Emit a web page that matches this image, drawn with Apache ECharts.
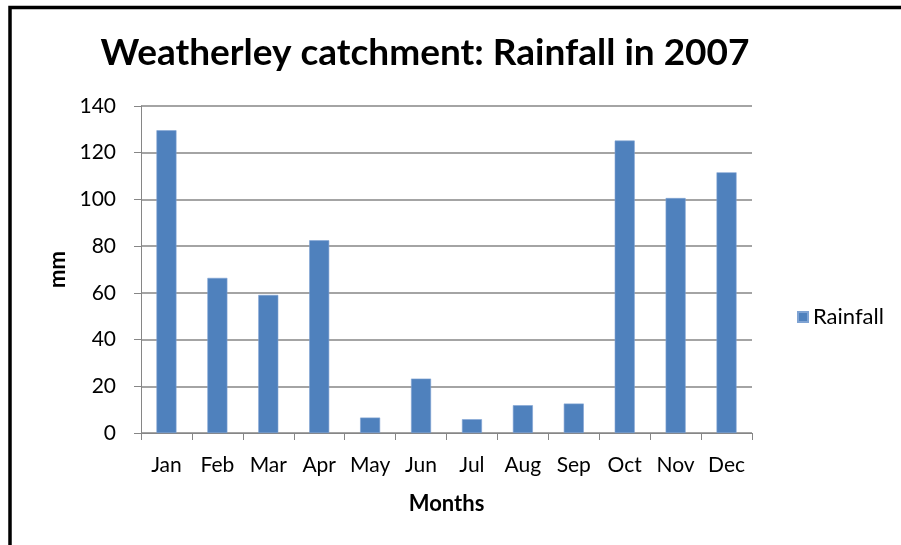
<!DOCTYPE html>
<html>
<head>
<meta charset="utf-8">
<script src="https://cdn.jsdelivr.net/npm/echarts@6/dist/echarts.min.js"></script>
<style>
  html, body { margin: 0; padding: 0; background: #fff; }
  #chart { width: 901px; height: 545px; }
</style>
</head>
<body>
<div id="chart"></div>
<script>
// Monthly rainfall for the Weatherley catchment, 2007 (mm)
const months = ['Jan', 'Feb', 'Mar', 'Apr', 'May', 'Jun', 'Jul', 'Aug', 'Sep', 'Oct', 'Nov', 'Dec'];
const rainfall = [129.6, 66.4, 59.1, 82.5, 6.6, 23.3, 5.9, 11.9, 12.6, 125.2, 100.6, 111.6];
const yTicks = { min: 0, max: 140, step: 20 };

const FONT = 'Lato, "Noto Sans", sans-serif';
const GRID_GRAY = '#868686';

const chart = echarts.init(document.getElementById('chart'), null, { renderer: 'canvas' });

chart.setOption({
  backgroundColor: '#ffffff',
  animation: false,
  title: {
    text: 'Weatherley catchment: Rainfall in 2007',
    left: 420,
    top: 30,
    textAlign: 'center',
    textStyle: { fontFamily: FONT, fontWeight: 'bold', fontSize: 37, color: '#000' }
  },
  legend: {
    data: ['Rainfall'],
    orient: 'vertical',
    left: 792,
    top: 301,
    itemWidth: 10,
    itemHeight: 10,
    itemGap: 8,
    icon: 'rect',
    textStyle: { fontFamily: FONT, fontSize: 22, color: '#000' }
  },
  grid: { left: 141, right: 149, top: 106, bottom: 112 },
  xAxis: {
    type: 'category',
    data: months,
    name: 'Months',
    nameLocation: 'middle',
    nameGap: 60,
    nameTextStyle: { fontFamily: FONT, fontWeight: 'bold', fontSize: 22, color: '#000' },
    axisLine: { lineStyle: { color: GRID_GRAY, width: 1 } },
    axisTick: { show: true, length: 7, lineStyle: { color: GRID_GRAY } },
    axisLabel: { fontFamily: FONT, fontSize: 21, color: '#000', margin: 22, interval: 0 }
  },
  yAxis: {
    type: 'value',
    min: yTicks.min,
    max: yTicks.max,
    interval: yTicks.step,
    name: 'mm',
    nameLocation: 'middle',
    nameGap: 70,
    nameRotate: 90,
    nameTextStyle: { fontFamily: FONT, fontWeight: 'bold', fontSize: 22, color: '#000' },
    axisLine: { show: true, lineStyle: { color: GRID_GRAY, width: 1 } },
    axisTick: { show: true, length: 7, lineStyle: { color: GRID_GRAY } },
    axisLabel: { fontFamily: FONT, fontSize: 21, color: '#000', margin: 25 },
    splitLine: { show: true, lineStyle: { color: GRID_GRAY, width: 1.5 } }
  },
  series: [{
    name: 'Rainfall',
    type: 'bar',
    data: rainfall,
    barWidth: 20,
    itemStyle: { color: '#4F81BD', borderColor: '#7FA3D3', borderWidth: 0.6 }
  }],
  graphic: [{
    type: 'rect',
    shape: { x: 10, y: 7.5, width: 1200, height: 1200 },
    style: { fill: null, stroke: '#000', lineWidth: 3.5 },
    silent: true
  }]
});
</script>
</body>
</html>
